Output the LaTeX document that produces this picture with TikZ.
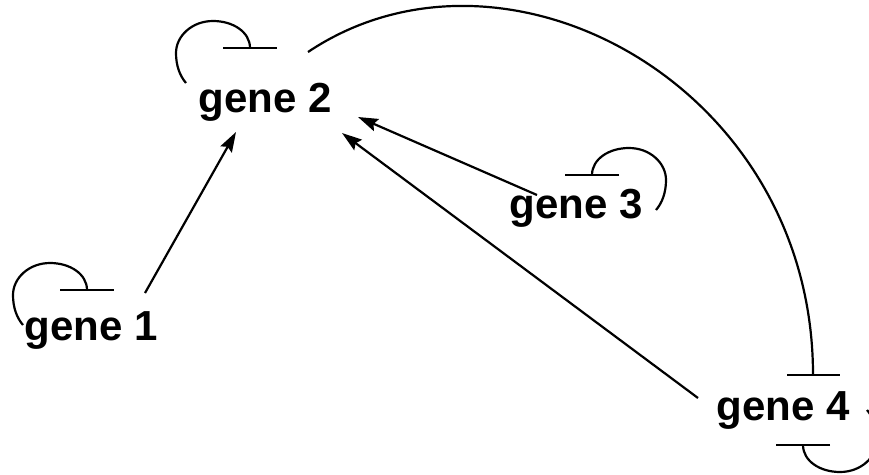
\documentclass[tikz,border=0pt]{standalone}
\usepackage{fontspec}
\setmainfont{Liberation Sans}
\usetikzlibrary{arrows.meta,calc}
\tikzset{
  gene/.style={font=\fontsize{42}{42}\selectfont\bfseries, inner sep=0pt, anchor=base},
  wire/.style={line width=2.2pt, black},
  act/.style={wire, -{Stealth[length=20pt, width=13pt, inset=3pt]}},
  rep/.style={wire},
  selfloop/.pic={
    \draw[rep] (-27,0) -- (27,0);
    \draw[rep] (0,0) .. controls (0,-16) and (-17,-27) .. (-37,-27)
                     .. controls (-58,-27) and (-74,-12) .. (-74,5)
                     .. controls (-74,18) and (-70,28) .. (-64,35);
  }
}
\begin{document}
\begin{tikzpicture}[x=1pt, y=-1pt]
  \clip (0,0) rectangle (869,474);
  \fill[white] (0,0) rectangle (869,474);

  % gene labels
  \node[gene] (g1) at (91,340) {gene 1};
  \node[gene] (g2) at (265,112) {gene 2};
  \node[gene] (g3) at (576,218) {gene 3};
  \node[gene] (g4) at (783,420) {gene 4};

  % self-repression loops
  \pic at (87,290) {selfloop};
  \pic at (250,48) {selfloop};
  \pic[xscale=-1] at (592,175) {selfloop};
  \pic[rotate=180] at (803,445) {selfloop};

  % end points of the activation arrows
  \coordinate (a1s) at (145,293);
  \coordinate (a1e) at (236,132);
  \coordinate (a3s) at (537,195);
  \coordinate (a3e) at (358,117);
  \coordinate (a4s) at (698,398);
  \coordinate (a4e) at (342,133);

  \draw[act] (a1s) -- (a1e);
  \draw[act] (a3s) -- (a3e);
  \draw[act] (a4s) -- (a4e);

  % gene 2 represses gene 4
  \coordinate (r2s) at (308,52);
  \coordinate (r4e) at (813,375);
  \draw[rep] (r2s) .. controls (505,-80) and (813,85) .. (r4e);
  \draw[rep] ($(r4e)+(-26,0)$) -- ($(r4e)+(27,0)$);
\end{tikzpicture}
\end{document}
